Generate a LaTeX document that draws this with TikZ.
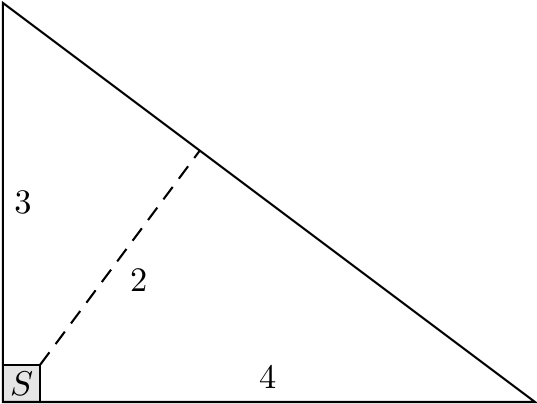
\documentclass[tikz,border=0pt]{standalone}
\usepackage{tikz}
\usetikzlibrary{calc}

\begin{document}
\begin{tikzpicture}[x=1.36cm, y=1.36cm, semithick]
			%%%%% START %%%%%
			\useasboundingbox (-0.022, -0.015) rectangle (4.015, 3.022);
			
			\coordinate (O) at (0, 0);
			\coordinate (A) at (0, 3);
			\coordinate (B) at (4, 0);
			\coordinate (F) at ($(A)!0.37!(B)$);
			
			\draw[fill=black!10] (O) rectangle (0.28, 0.28);
			\node (S) at (0.14, 0.14) {$S$};
			\coordinate (C) at (0.28, 0.28);
			
			\draw (O) -- (A) -- (B) -- cycle;
			\draw[dash pattern=on 4.5pt off 3pt] (C) -- (F);
			
			\node (l3) at (0.15, 1.5) {3};
			\node (l2) at (1.02, 0.92) {2};
			\node (l4) at (1.99, 0.19) {4};
			%%%%% END %%%%%
		\end{tikzpicture}
\end{document}
